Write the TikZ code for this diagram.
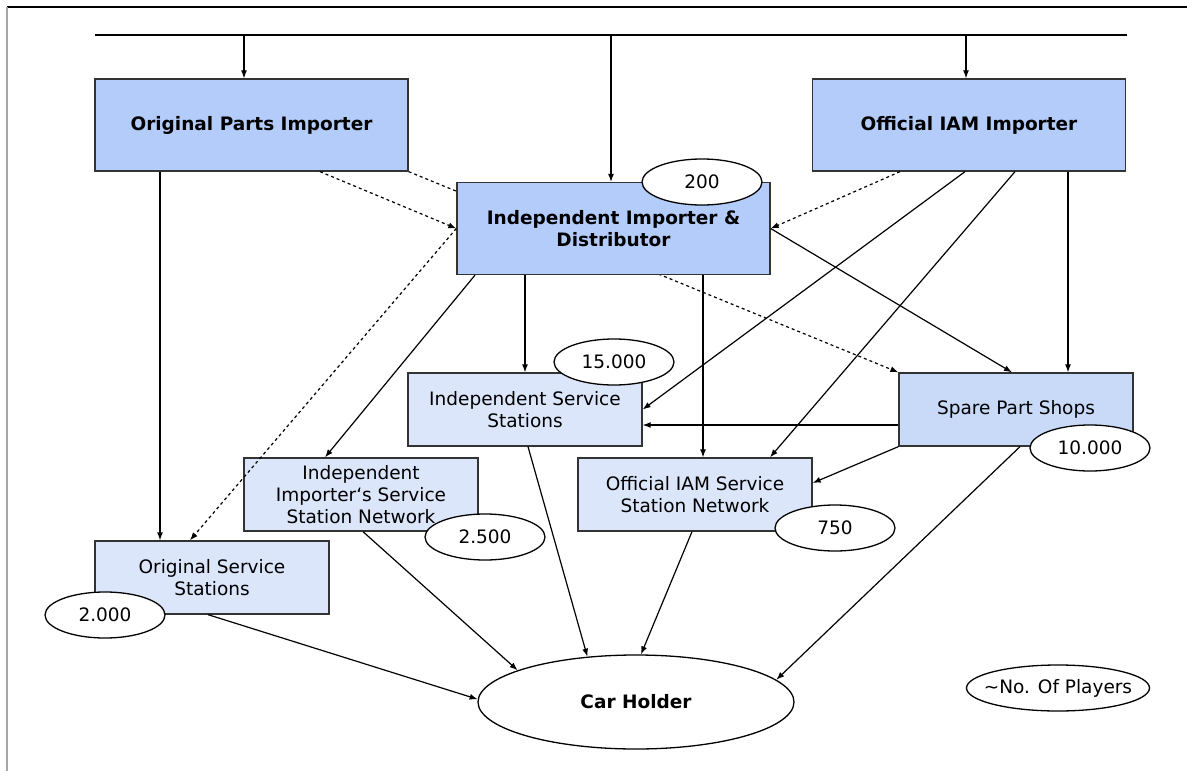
\documentclass[tikz,border=0pt]{standalone}
\usepackage{fontspec}
\setmainfont{DejaVu Sans}
\usepackage{tikz}
\usetikzlibrary{arrows.meta,shapes.geometric,backgrounds}
\definecolor{boxdark}{HTML}{B4CCFA}
\definecolor{boxpale}{HTML}{DCE6FA}
\definecolor{boxmid}{HTML}{C9DAF8}
\definecolor{frameline}{HTML}{A6A6A6}

\begin{document}
\begin{tikzpicture}[x=1pt,y=-1pt, every node/.style={font=\fontsize{18.5}{22}\selectfont,align=center},
  imp/.style={draw=black!80,line width=1.3pt,fill=boxdark,minimum width=313pt,minimum height=92pt,font=\fontsize{18.5}{22}\selectfont\bfseries},
  stn/.style={draw=black!80,line width=1.3pt,fill=boxpale,minimum width=234pt,minimum height=73pt},
  cnt/.style={ellipse,draw=black,line width=1.3pt,fill=white,minimum width=120pt,minimum height=46pt,inner sep=0pt},
  arr/.style={-{Latex[length=8pt,width=6pt]},draw=black,line width=1.2pt},
  darr/.style={arr,dashed}]
  \useasboundingbox (0,0) rectangle (1187,771);
  \draw[black,line width=1.2pt] (7,7) -- (1187,7);
  \draw[frameline,line width=1.2pt] (7,7) -- (7,771);
  \coordinate (feedl) at (95,35);
  \coordinate (feedr) at (1127,35);
  \draw[line width=1.2pt] (feedl) -- (feedr);

  \node[imp] (origimp) at (251.5,125) {Original Parts Importer};
  \node[imp] (iamimp) at (969,125) {Official IAM Importer};
  \node[imp] (indep) at (613.5,228.5) {Independent Importer \&\\Distributor};
  \node[stn] (indss) at (525,409.5) {Independent Service\\Stations};
  \node[stn,fill=boxmid] (shops) at (1016,409.5) {Spare Part Shops};
  \node[stn] (indnet) at (361,494.5) {Independent\\Importer‘s Service\\Station Network};
  \node[stn] (iamnet) at (695,494.5) {Official IAM Service\\Station Network};
  \node[stn] (origss) at (212,577.5) {Original Service\\Stations};
  \node[ellipse,draw=black,line width=1.3pt,fill=white,minimum width=316pt,minimum height=94pt,font=\fontsize{18.5}{22}\selectfont\bfseries] (holder) at (636,702) {Car Holder};
  \node[cnt,minimum width=183pt,inner xsep=-13pt] (legend) at (1058,688) {\textasciitilde No. Of Players};

  \draw[arr] ([xshift=-7.5pt,yshift=44pt]origimp.north) -- ([xshift=-7.5pt]origimp.north);
  \draw[arr] ([xshift=-2.5pt,yshift=148pt]indep.north) -- ([xshift=-2.5pt]indep.north);
  \draw[arr] ([xshift=-3pt,yshift=44pt]iamimp.north) -- ([xshift=-3pt]iamimp.north);

  \begin{scope}[on background layer]
    \draw[darr] (origimp.south east) -- (shops.north west);
  \end{scope}
  \draw[darr] ([xshift=68.5pt]origimp.south) -- (indep.west);
  \draw[darr] ([xshift=-69pt]iamimp.south) -- (indep.east);
  \draw[darr] (indep.west) -- ([xshift=-22pt]origss.north);
  \draw[arr] ([xshift=-91.5pt]origimp.south) -- ([xshift=-52pt]origss.north);
  \draw[arr] ([xshift=-138.5pt]indep.south) -- ([xshift=-36pt]indnet.north);
  \draw[arr] ([xshift=-88.5pt]indep.south) -- (indss.north);
  \draw[arr] ([xshift=89.5pt]indep.south) -- ([xshift=8pt]iamnet.north);
  \draw[arr] (indep.east) -- ([xshift=-4pt]shops.north);
  \draw[arr] ([xshift=-4pt]iamimp.south) -- (indss.east);
  \draw[arr] ([xshift=46pt]iamimp.south) -- ([xshift=75pt]iamnet.north);
  \draw[arr] ([xshift=99pt]iamimp.south) -- ([xshift=52pt]shops.north);
  \draw[arr] ([yshift=-15.5pt]shops.west) -- ([yshift=-15.5pt]indss.east);
  \draw[arr] (shops.south west) -- ([yshift=11.5pt]iamnet.east);
  \draw[arr] ([xshift=-4pt]origss.south) -- (holder.179);
  \draw[arr] ([xshift=2pt]indnet.south) -- (holder.165);
  \draw[arr] ([xshift=3pt]indss.south) -- (holder.137);
  \draw[arr] ([xshift=-3pt]iamnet.south) -- (holder.84);
  \draw[arr] ([xshift=4pt]shops.south) -- (holder.9);

  \node[cnt] (n200) at (702,182) {200};
  \node[cnt] (n15000) at (614,362) {15.000};
  \node[cnt] (n10000) at (1090,448) {10.000};
  \node[cnt] (n2500) at (485,537) {2.500};
  \node[cnt] (n750) at (835,528) {750};
  \node[cnt] (n2000) at (105,615) {2.000};
\end{tikzpicture}
\end{document}
